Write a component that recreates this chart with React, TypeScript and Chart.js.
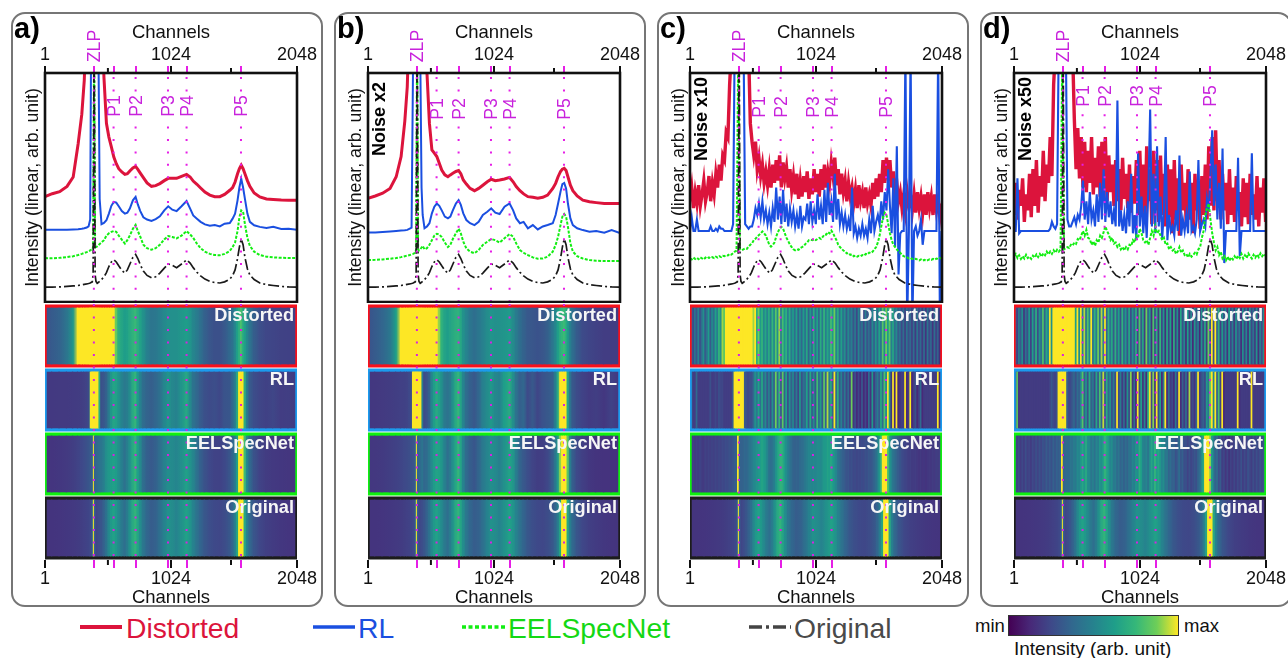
import React, { useEffect, useRef } from "react";
import { Chart, registerables } from "chart.js";

Chart.register(...registerables);
Chart.defaults.font.family = '"Liberation Sans", Arial, sans-serif';

const ROWS = ["Distorted", "RL", "EELSpecNet", "Original"];
const FRAME_COLORS = ["#f7101c", "#1b9bee", "#0ff00f", "#1c1c1c"];
const PEAK_NAMES = ["ZLP", "P1", "P2", "P3", "P4", "P5"];
const PEAK_CHANNELS = [398, 558, 737, 1000, 1151, 1593];
const LABEL_TICKS = [1, 1024, 2048];
const MINOR_TICKS = [512, 1512];

const SMOOTH_CH = [
  1, 60, 120, 180, 230, 270, 300, 320, 340, 355,
  368, 375, 385, 392, 400, 408, 415, 425, 436, 445,
  460, 480, 500, 520, 540, 560, 580, 600, 625, 650,
  670, 690, 715, 737, 755, 775, 800, 830, 866, 900,
  934, 970, 1002, 1035, 1070, 1110, 1151, 1180, 1205, 1235,
  1265, 1300, 1340, 1380, 1421, 1460, 1502, 1525, 1545, 1565,
  1580, 1595, 1610, 1625, 1645, 1665, 1700, 1746, 1800, 1855,
  1920, 1980, 2048,
];

const ORIGINAL = [
  6.5, 6.5, 6.6, 6.8, 7, 7.2, 7.5, 7.7, 7.9, 8.1,
  8.3, 8.5, 8.8, 12, 120, 12, 9, 8.2, 8.6, 9,
  9.8, 11, 12.8, 15.5, 17.5, 18.5, 17.5, 15.8, 13.8, 12.6,
  14, 16.5, 19.5, 20.8, 19, 16.3, 13.5, 11.6, 10.6, 11,
  12.6, 14.8, 16.6, 16, 15, 16.6, 18.4, 17, 15, 13,
  11.4, 10, 9, 8.5, 8.3, 8.8, 10, 11.5, 14, 19,
  24, 27.5, 25, 19.5, 14.5, 11.8, 9.8, 8.3, 7.6, 7.2,
  6.8, 6.6, 6.5,
];

const A_DISTORTED = [
  46, 47.3, 48.2, 50.5, 54.6, 69, 82, 96.8, 130, 130,
  130, 130, 130, 130, 130, 130, 130, 130, 130, 130,
  130, 98, 78, 72, 67.7, 63.3, 60.4, 58.2, 56.8, 55.7,
  56, 57.2, 58.5, 59.2, 57.9, 56.3, 54.3, 52, 50.5, 50.8,
  51.7, 53, 54, 54, 54, 54.9, 55.7, 54.6, 52.8, 51.4,
  49.8, 48, 46.7, 46, 46, 47, 48.8, 50, 52.4, 56,
  58.2, 59.7, 58.2, 56, 53, 50.5, 47.6, 45.9, 45, 44.8,
  44.5, 44.4, 44.4,
];
const A_RL = [
  31.5, 31.5, 31.6, 31.6, 31.7, 31.8, 32, 32.2, 32.5, 33,
  36, 110, 120, 120, 120, 120, 120, 120, 105, 45,
  34, 34.5, 35.7, 38.6, 42, 43.7, 43.4, 41.8, 39.7, 38.6,
  39, 40.8, 44.4, 45.9, 42.6, 39.7, 37, 36, 35.4, 36.2,
  37.4, 40, 41.8, 40.3, 39.7, 41.8, 44.1, 40.8, 37.8, 36.4,
  35, 33.9, 33.3, 33.6, 33, 34.2, 34.5, 36.4, 38.6, 44.4,
  50, 53.9, 50, 45, 38.6, 35, 33.5, 32.8, 32.3, 32.8,
  31.9, 32, 31.6,
];
const A_EELS = [
  19.2, 19.1, 19.3, 19.6, 20, 20.5, 21, 21.4, 21.8, 22.2,
  22.5, 22.8, 23, 24, 120, 24, 24, 24.3, 24.8, 25.3,
  26, 27, 29, 30, 30.6, 31, 30.6, 29, 27.2, 25.5,
  27, 29, 32, 33.7, 31, 28.5, 25, 23.5, 22.8, 23.5,
  25, 27.3, 28.8, 28.4, 27.8, 29, 31, 29.5, 28, 25.5,
  23.5, 22, 21, 20.5, 20.4, 21, 22.3, 24, 26, 31,
  37, 40, 39.5, 34, 28, 24.5, 22, 20.5, 19.8, 19.5,
  19.3, 19.2, 19.2,
];

const B_DISTORTED = [
  45.3, 46.3, 47.5, 49.6, 54.7, 63.5, 79, 94, 130, 130,
  130, 130, 130, 130, 130, 130, 130, 130, 130, 130,
  130, 100, 78, 66.4, 65, 63.5, 60.6, 57.6, 55.5, 54.7,
  55.5, 56.2, 57, 57.4, 56, 53.3, 51.5, 49.6, 48.6, 49.6,
  51, 52.5, 53.6, 53, 53.3, 53.7, 54.4, 52.5, 50.4, 48.6,
  47.2, 46, 45.7, 45.3, 45.7, 46.7, 49.6, 51.8, 54.7, 57,
  58, 58.4, 57.4, 54.7, 51, 48.6, 46.3, 44.5, 43.8, 43.4,
  43, 43, 43,
];
const B_RL = [
  30.3, 30.4, 30.6, 30.8, 31, 31.2, 31.3, 31.5, 32, 32.5,
  110, 120, 120, 120, 120, 120, 120, 110, 50, 38,
  32.2, 33, 34.4, 38.7, 41.6, 43, 42, 40, 37.3, 36.5,
  37.3, 40, 43, 44.5, 42.4, 38.7, 35.8, 34.4, 33.6, 35,
  38, 39.4, 40.9, 39, 38.4, 41.6, 43, 40, 36.5, 34.4,
  35, 32.2, 33.6, 31.7, 33, 33.6, 34.4, 38, 43, 48.2,
  51.5, 52, 49.6, 43, 36.5, 33.6, 32.2, 31.4, 30.7, 31,
  30.3, 31.4, 30.1,
];
const B_EELS = [
  18.3, 18.4, 18.6, 18.9, 19.2, 19.6, 20, 20.2, 20.5, 20.8,
  21, 21.2, 21.5, 23, 120, 23, 22.5, 23, 23.8, 24.5,
  23, 23.5, 25, 27, 29, 29.8, 29.5, 28.3, 26, 24,
  25, 27.5, 30, 32, 30, 26.3, 23.4, 22, 21.3, 22.7,
  24.9, 26.3, 27.5, 27, 25.9, 27.8, 29.7, 28.5, 25.6, 22.7,
  21.5, 20.5, 19.5, 18.9, 19, 19.8, 22, 24.9, 28.5, 33.6,
  37.3, 38.4, 37.3, 32.9, 25.6, 22, 20, 19, 18.3, 18,
  17.9, 17.9, 17.9,
];

const NOISY_CH = Array.from({ length: 147 }, (_, i) => 1 + i * 14);

const C_DISTORTED = [
  44, 50, 41, 48, 43, 51, 42, 47, 53, 44,
  48, 55, 44, 52, 47, 56, 50, 60, 53, 64,
  62, 74, 72, 95, 110, 130, 130, 130, 130, 130,
  130, 130, 130, 130, 110, 78, 70, 64, 70, 58,
  63, 55, 60, 52, 57, 51, 58, 50, 60, 52,
  62, 53, 64, 50, 61, 54, 59, 50, 58, 49,
  55, 47, 56, 45, 53, 46, 55, 48, 57, 45,
  54, 47, 58, 48, 56, 46, 58, 49, 60, 50,
  57, 52, 61, 55, 63, 51, 58, 47, 56, 48,
  53, 44, 52, 46, 50, 43, 49, 41, 51, 44,
  48, 41, 50, 43, 47, 42, 52, 45, 54, 46,
  56, 48, 62, 52, 63, 55, 62, 50, 57, 47,
  52, 44, 48, 41, 47, 40, 48, 42, 46, 40,
  47, 39, 48, 41, 46, 39, 47, 38, 48, 41,
  46, 38, 47, 40, 45, 37, 43,
];
const C_RL = [
  31, 37, 31, 31, 36, 31, 31, 31, 31, 31,
  31, 31, 33, 31, 31, 32, 31, 33, 32, 32,
  31, 31, 31, 31, 31, 34, 120, 120, 120, 120,
  120, 120, 34, 33, 32, 33, 33, 36, 41, 38,
  43, 37, 44, 36, 40, 34, 39, 33, 41, 35,
  50, 36, 46, 34, 49, 35, 43, 33, 41, 35,
  40, 33, 38, 32, 42, 33, 37, 36, 43, 34,
  44, 35, 40, 34, 47, 36, 42, 34, 49, 35,
  52, 38, 44, 35, 56, 36, 45, 34, 39, 33,
  38, 32, 36, 31, 50, 30, 33, 28, 32, 29,
  34, 29, 32, 28, 36, 30, 42, 31, 35, 38,
  34, 44, 36, 48, 40, 58, 42, 30, 54, 24,
  68, 12, 30, 31, 31, 110, -10, 31, 110, -10,
  31, 33, 29, 31, 36, 25, 31, 31, 31, 31,
  31, 31, 31, 31, 110, -10, 31,
];
const C_EELS = [
  19, 18.6, 19.4, 18.8, 19.3, 18.7, 19.5, 19, 18.6, 19.4,
  19, 19.5, 19.1, 19.6, 19.2, 19.8, 19.4, 20, 19.6, 20.2,
  20, 20.5, 20.3, 21, 20.7, 21.3, 22, 22.4, 110, 23,
  22.6, 23, 23.4, 23.2, 24.2, 25, 25.6, 27, 27.6, 28.6,
  29.2, 30, 30.8, 30, 29, 27, 25, 24.2, 24.8, 26,
  28.5, 30.5, 32, 32.8, 32, 30, 28, 26.6, 25, 24,
  23, 22.6, 23, 22.8, 23.6, 24, 24.4, 25.4, 26, 27,
  27.2, 27, 27.4, 27, 27.6, 28, 27.5, 28.4, 29.5, 29.4,
  30.5, 30, 31.2, 30, 28.4, 27, 25, 24, 23.2, 22.5,
  22, 21.2, 21.4, 20.6, 20.8, 20, 20.3, 19.8, 20.2, 20,
  20.5, 20.2, 21, 20.8, 21.6, 21.4, 22, 23, 24, 26,
  29, 33, 37, 39, 38, 34, 30, 27, 25, 24,
  23, 22, 21.5, 20.5, 20, 19.7, 19.5, 19, 19.2, 18.8,
  18.7, 18.9, 18.5, 18.2, 18.6, 18.1, 18.4, 18, 18.3, 18.6,
  18.4, 18.8, 18.5, 19, 18.8, 19.2, 19,
];

const D_DISTORTED = [
  38, 52, 36, 49, 42, 54, 35, 47, 40, 56,
  37, 58, 42, 62, 39, 55, 46, 66, 44, 60,
  52, 72, 55, 95, 110, 130, 130, 130, 130, 130,
  130, 130, 130, 130, 110, 80, 58, 76, 54, 72,
  50, 70, 48, 66, 52, 72, 47, 63, 50, 68,
  46, 70, 50, 72, 44, 64, 48, 60, 42, 62,
  44, 58, 40, 63, 45, 56, 41, 60, 39, 55,
  43, 62, 38, 66, 42, 60, 36, 68, 44, 58,
  34, 66, 40, 62, 35, 64, 38, 56, 33, 60,
  37, 58, 30, 62, 36, 54, 29, 60, 40, 52,
  33, 58, 36, 52, 30, 56, 40, 50, 32, 55,
  38, 60, 36, 68, 42, 72, 40, 75, 44, 62,
  36, 56, 40, 52, 34, 58, 38, 50, 35, 55,
  40, 48, 33, 54, 37, 52, 34, 56, 38, 47,
  36, 55, 33, 50, 39, 54, 35,
];
const D_RL = [
  31, 31, 54, 30, 31, 31, 31, 31, 31, 31,
  31, 31, 31, 31, 31, 31, 31, 31, 31, 31,
  31, 32, 35, 33, 32, 34, 120, 120, 120, 120,
  120, 36, 33, 33, 35, 37, 34, 38, 36, 42,
  53, 36, 44, 34, 48, 36, 40, 33, 47, 35,
  52, 36, 58, 35, 48, 37, 44, 34, 40, 33,
  88, 33, 40, 31, 38, 30, 44, 33, 56, 30,
  38, 27, 65, 33, 46, 30, 42, 28, 50, 84,
  33, 56, 30, 68, 33, 46, 28, 40, 72, 27,
  38, 31, 33, 29, 40, 31, 64, 29, 36, 31,
  38, 30, 57, 31, 33, 30, 36, 62, 31, 34,
  36, 33, 45, 40, 55, 75, 42, 60, 36, 52,
  32, 67, 17, 31, 31, 31, 31, 31, 31, 31,
  63, 20, 31, 31, 31, 31, 31, 31, 65, 31,
  31, 31, 31, 31, 31, 31, 31,
];
const D_EELS = [
  20, 21, 19.2, 20.4, 18.8, 20, 19, 20.6, 19.2, 19.8,
  18.8, 20.2, 19.4, 20.8, 19.6, 21, 19.8, 21.2, 20.4, 22,
  20.8, 22, 21, 22.6, 21.5, 22.8, 22, 23, 110, 23,
  23.5, 24, 23.6, 25, 24.6, 26, 25.4, 27.5, 27, 29,
  31, 29, 31.5, 28, 27.5, 25, 26.5, 24.5, 27, 26,
  29, 28, 30.5, 33, 31, 29.5, 27, 28, 25.5, 26,
  24, 25, 23, 24, 22.6, 24, 23, 25, 24.5, 27,
  26, 29, 28, 32, 30, 27, 26, 27, 25, 28,
  31, 29, 33, 30, 31, 29, 27, 28, 25, 25.5,
  23, 24, 22.5, 23, 21, 22, 24, 21.5, 22.5, 20.5,
  21, 19.5, 21, 19.8, 20.5, 21.5, 20.8, 23, 24, 28,
  31, 38, 41, 43, 36, 30, 26, 22.5, 24, 20.5,
  22, 19, 20, 18.2, 19.8, 18, 19.5, 18.6, 20, 18.8,
  20.2, 19.2, 21, 19, 20.4, 19.2, 21.2, 20, 19, 20.6,
  19.4, 20.8, 19.6, 21.2, 20, 21, 20.2,
];

const VIRIDIS = ["#440154", "#482878", "#3e4989", "#31688e", "#26828e", "#1f9e89", "#35b779", "#6ece58", "#fde725"];

const RED = "#dc143c";
const BLUE = "#1a4fe0";
const GREEN = "#12ee12";
const BLACK = "#1a1a1a";
const MAGENTA = "#e61ee6";
const DOT_MAGENTA = "#d820e4";
const LABEL_MAGENTA = "#c822dc";

type Spec = {
  tag: string; noise: string | null; left: number; plotLeft: number; width: number; labelY: number;
  ch: number[][]; series: number[][]; ranges: number[][];
};

const PANELS: Spec[] = [
  { tag: "a)", noise: null, left: 11, plotLeft: 45, width: 312, labelY: 106,
    ch: [SMOOTH_CH, SMOOTH_CH, SMOOTH_CH, SMOOTH_CH],
    series: [A_DISTORTED, A_RL, A_EELS, ORIGINAL],
    ranges: [[43, 59, 62], [31, 46, 48], [19, 33.7, 36], [6.5, 21, 23]] },
  { tag: "b)", noise: "Noise x2", left: 334, plotLeft: 368, width: 312, labelY: 109,
    ch: [SMOOTH_CH, SMOOTH_CH, SMOOTH_CH, SMOOTH_CH],
    series: [B_DISTORTED, B_RL, B_EELS, ORIGINAL],
    ranges: [[42, 58, 62], [30, 44.5, 47], [18, 32, 34.5], [6.5, 21, 23]] },
  { tag: "c)", noise: "Noise x10", left: 657, plotLeft: 690, width: 312, labelY: 107,
    ch: [NOISY_CH, NOISY_CH, NOISY_CH, SMOOTH_CH],
    series: [C_DISTORTED, C_RL, C_EELS, ORIGINAL],
    ranges: [[38, 60, 66], [30, 46, 54], [18, 33, 36], [6.5, 21, 23]] },
  { tag: "d)", noise: "Noise x50", left: 980, plotLeft: 1014, width: 308, labelY: 96,
    ch: [NOISY_CH, NOISY_CH, NOISY_CH, SMOOTH_CH],
    series: [D_DISTORTED, D_RL, D_EELS, ORIGINAL],
    ranges: [[34, 64, 72], [30, 50, 60], [18, 33, 38], [6.5, 21, 23]] },
];

const PLOT_W = 252;
const LINE_STYLE = [
  { color: RED, width: 3, noisyWidth: 3.4, dash: [] as number[], order: 4 },
  { color: BLUE, width: 2, noisyWidth: 2.1, dash: [] as number[], order: 3 },
  { color: GREEN, width: 2, noisyWidth: 2, dash: [3, 1.5], order: 2 },
  { color: BLACK, width: 1.7, noisyWidth: 1.7, dash: [11, 3, 2, 3], order: 1 },
];

function hexRgb(h: string) {
  return [1, 3, 5].map((i) => parseInt(h.slice(i, i + 2), 16));
}
function viridis(t: number) {
  const c = Math.max(0.13, Math.min(0.9999, t)) * (VIRIDIS.length - 1);
  const i = Math.floor(c);
  const f = c - i;
  const a = hexRgb(VIRIDIS[i]);
  const b = hexRgb(VIRIDIS[i + 1]);
  return `rgb(${a.map((v, k) => Math.round(v + (b[k] - v) * f)).join(",")})`;
}
function level(v: number, r: number[]) {
  if (v <= r[1]) return 0.17 + ((v - r[0]) / (r[1] - r[0])) * 0.57;
  return 0.74 + ((v - r[1]) / (r[2] - r[1])) * 0.26;
}

function xAxis(position: "top" | "bottom", height: number, titlePad: any, tickPad: number) {
  return {
    type: "linear" as const,
    position,
    min: 1,
    max: 2048,
    afterBuildTicks(scale: any) {
      scale.ticks = [...LABEL_TICKS, ...PEAK_CHANNELS].sort((a, b) => a - b).map((value) => ({ value }));
    },
    afterFit(scale: any) {
      scale.height = height;
    },
    border: { display: false },
    grid: {
      drawOnChartArea: false,
      drawTicks: true,
      tickLength: position === "top" ? 7 : 8,
      lineWidth: 2,
      color: (c: any) => (c.tick && PEAK_CHANNELS.includes(c.tick.value) ? MAGENTA : "#111"),
    },
    ticks: {
      autoSkip: false,
      maxRotation: 0,
      minRotation: 0,
      padding: tickPad,
      color: "#111",
      font: { size: 18 },
      callback: (v: any) => (LABEL_TICKS.includes(v) ? String(v) : ""),
    },
    title: { display: true, text: "Channels", color: "#111", font: { size: 18.5 }, padding: titlePad },
  };
}

function rotatedText(ctx: any, text: string, x: number, y: number, font: string, color: string) {
  ctx.save();
  ctx.translate(x, y);
  ctx.rotate(-Math.PI / 2);
  ctx.textAlign = "center";
  ctx.textBaseline = "middle";
  ctx.font = font;
  ctx.fillStyle = color;
  ctx.fillText(text, 0, 0);
  ctx.restore();
}

function Panel({ spec }: { spec: Spec }) {
  const lineRef = useRef<HTMLCanvasElement>(null);
  const heatRef = useRef<HTMLCanvasElement>(null);
  const off = spec.plotLeft - spec.left;
  const rightPad = spec.width - off - PLOT_W;

  useEffect(() => {
    const overlay = {
      id: "lineOverlay",
      afterDatasetsDraw(chart: any) {
        const { ctx, chartArea: a, scales } = chart;
        ctx.save();
        ctx.strokeStyle = MAGENTA;
        ctx.lineWidth = 2;
        ctx.setLineDash([2, 10.4]);
        PEAK_CHANNELS.forEach((c) => {
          const x = scales.x.getPixelForValue(c);
          ctx.beginPath();
          ctx.moveTo(x, a.top + 4);
          ctx.lineTo(x, a.bottom);
          ctx.stroke();
        });
        ctx.setLineDash([]);
        PEAK_NAMES.forEach((n, i) => {
          const x = scales.x.getPixelForValue(PEAK_CHANNELS[i]);
          if (n === "ZLP") {
            rotatedText(ctx, n, x + 1.5, 34, "17.7px 'Liberation Sans'", LABEL_MAGENTA);
          } else {
            const cy = spec.labelY - 12;
            ctx.fillStyle = "#fff";
            ctx.fillRect(x - 3, cy - 13, 6, 26);
            rotatedText(ctx, n, x + 1.5, cy, "17.7px 'Liberation Sans'", LABEL_MAGENTA);
          }
        });
        if (spec.noise) {
          rotatedText(ctx, spec.noise, a.left + 12, 107, "bold 18px 'Liberation Sans'", "#000");
        }
        ctx.strokeStyle = "#111";
        ctx.lineWidth = 2;
        MINOR_TICKS.forEach((c) => {
          const x = scales.x.getPixelForValue(c);
          ctx.beginPath();
          ctx.moveTo(x, a.top);
          ctx.lineTo(x, a.top - 5);
          ctx.stroke();
        });
        ctx.lineWidth = 2.6;
        ctx.strokeRect(a.left, a.top, a.right - a.left, a.bottom - a.top);
        ctx.restore();
      },
    };
    const lineChart = new Chart(lineRef.current as HTMLCanvasElement, {
      type: "line",
      data: {
        datasets: spec.series.map((vals, s) => ({
          label: ROWS[s],
          data: vals.map((y, i) => ({ x: spec.ch[s][i], y })),
          borderColor: LINE_STYLE[s].color,
          borderWidth: spec.ch[s] === NOISY_CH ? LINE_STYLE[s].noisyWidth : LINE_STYLE[s].width,
          borderDash: LINE_STYLE[s].dash,
          order: LINE_STYLE[s].order,
          pointRadius: 0,
          tension: 0,
          fill: false,
        })),
      },
      plugins: [overlay],
      options: {
        responsive: false,
        animation: false,
        events: [],
        layout: { padding: { top: 0, left: 0, right: rightPad, bottom: 1 } },
        plugins: { legend: { display: false }, tooltip: { enabled: false } },
        scales: {
          x: xAxis("top", 61, { top: 9.5, bottom: 0 }, 0),
          y: {
            type: "linear",
            min: 0,
            max: 100,
            afterFit(scale: any) {
              scale.width = off;
            },
            border: { display: false },
            grid: { display: false },
            ticks: { display: false },
            title: {
              display: true,
              text: "Intensity (linear, arb. unit)",
              color: "#111",
              font: { size: 17.7 },
              padding: { top: 11, bottom: 0 },
            },
          },
        },
      } as any,
    });

    const INSET_L = 15;
    const INSET_R = 2034;
    const cellSets = spec.series.map((vals, s) => {
      const ch = spec.ch[s];
      const solid = ch === NOISY_CH;
      const cols = vals.map((v) => viridis(level(v, spec.ranges[s])));
      return {
        label: ROWS[s],
        grouped: false,
        barPercentage: 0.885,
        categoryPercentage: 1,
        borderWidth: 0,
        data: vals.slice(0, -1).map((_, i) => ({
          x: [Math.max(INSET_L, ch[i] - 10), Math.min(INSET_R, ch[i + 1])],
          y: ROWS[s],
        })),
        backgroundColor: (c: any) => {
          const i = c.dataIndex;
          if (i === undefined || !c.chart.scales.x) return cols[0];
          if (solid) return cols[i];
          const xs = c.chart.scales.x;
          const x0 = xs.getPixelForValue(ch[i]);
          const x1 = xs.getPixelForValue(ch[i + 1]);
          if (!Number.isFinite(x0) || !Number.isFinite(x1)) return cols[i] || cols[0];
          const g = c.chart.ctx.createLinearGradient(x0, 0, x1, 0);
          g.addColorStop(0, cols[i]);
          g.addColorStop(1, cols[i + 1]);
          return g;
        },
      };
    });
    const heatOverlay = {
      id: "heatOverlay",
      afterDatasetsDraw(chart: any) {
        const { ctx, chartArea: a, scales } = chart;
        ctx.save();
        ctx.strokeStyle = DOT_MAGENTA;
        ctx.lineWidth = 2;
        ctx.setLineDash([2, 10.5]);
        PEAK_CHANNELS.forEach((c) => {
          const x = scales.x.getPixelForValue(c);
          ctx.beginPath();
          ctx.moveTo(x, a.top);
          ctx.lineTo(x, a.bottom);
          ctx.stroke();
        });
        ctx.setLineDash([]);
        ctx.fillStyle = "#f6f6f6";
        ctx.font = "bold 18.2px 'Liberation Sans'";
        ctx.textAlign = "right";
        ctx.textBaseline = "middle";
        ROWS.forEach((r) => {
          ctx.fillText(r, a.right - 3, scales.y.getPixelForValue(r) - 20);
        });
        ctx.strokeStyle = "#111";
        ctx.lineWidth = 2;
        MINOR_TICKS.forEach((c) => {
          const x = scales.x.getPixelForValue(c);
          ctx.beginPath();
          ctx.moveTo(x, a.bottom);
          ctx.lineTo(x, a.bottom + 5);
          ctx.stroke();
        });
        ctx.restore();
      },
    };
    const heatChart = new Chart(heatRef.current as HTMLCanvasElement, {
      type: "bar",
      data: {
        labels: ROWS,
        datasets: [
          ...cellSets,
          {
            label: "frame",
            grouped: false,
            barPercentage: 0.985,
            categoryPercentage: 1,
            borderWidth: 0,
            data: ROWS.map((r) => ({ x: [1, 2048], y: r })),
            backgroundColor: FRAME_COLORS,
          },
        ],
      },
      plugins: [heatOverlay],
      options: {
        indexAxis: "y",
        responsive: false,
        animation: false,
        events: [],
        layout: { padding: { top: 1, left: off, right: rightPad, bottom: 0 } },
        plugins: { legend: { display: false }, tooltip: { enabled: false } },
        scales: {
          x: xAxis("bottom", 49, { top: 0, bottom: 0 }, 0),
          y: { type: "category", labels: ROWS, display: false, offset: true },
        },
      } as any,
    });
    return () => {
      lineChart.destroy();
      heatChart.destroy();
    };
  }, [spec]);

  return (
    <>
      <div
        style={{
          position: "absolute",
          left: spec.left,
          top: 12,
          width: 312,
          height: 595,
          boxSizing: "border-box",
          border: "2px solid #767676",
          borderRadius: 14,
        }}
      />
      <canvas ref={lineRef} width={spec.width} height={291} style={{ position: "absolute", left: spec.left, top: 12, display: "block" }} />
      <canvas ref={heatRef} width={spec.width} height={306} style={{ position: "absolute", left: spec.left, top: 303, display: "block" }} />
      <div style={{ position: "absolute", left: spec.left + 3, top: 12, font: "bold 29px 'Liberation Sans'", color: "#000" }}>{spec.tag}</div>
    </>
  );
}

function LegendItem({ x, x2, y, color, textColor, dash, text, textX, thick }: any) {
  return (
    <>
      <svg style={{ position: "absolute", left: x, top: y - 4, width: x2 - x, height: 8 }}>
        <line x1={0} y1={4} x2={x2 - x} y2={4} stroke={color} strokeWidth={thick} strokeDasharray={dash} />
      </svg>
      <div style={{ position: "absolute", left: textX, top: y - 15, font: "28.3px 'Liberation Sans'", color: textColor, whiteSpace: "nowrap" }}>{text}</div>
    </>
  );
}

export default function App() {
  return (
    <div style={{ position: "absolute", left: 0, top: 0, width: 1288, height: 658, overflow: "hidden", background: "#fff" }}>
      {PANELS.map((p) => (
        <Panel key={p.tag} spec={p} />
      ))}
      <LegendItem x={80} x2={122} y={627} color={RED} textColor={RED} thick={4} text="Distorted" textX={126} />
      <LegendItem x={313} x2={355} y={627} color={BLUE} textColor={BLUE} thick={3.5} text="RL" textX={358} />
      <LegendItem x={462} x2={505} y={627} color={GREEN} textColor="#14d814" thick={3.5} dash="4 2.5" text="EELSpecNet" textX={508} />
      <LegendItem x={749} x2={791} y={627} color="#444" textColor="#4a4a4a" thick={3.5} dash="13 4 3 4" text="Original" textX={794} />
      <div
        style={{
          position: "absolute",
          left: 1008,
          top: 615,
          width: 171,
          height: 21,
          boxSizing: "border-box",
          border: "1px solid #333",
          background: `linear-gradient(to right, ${VIRIDIS.join(",")})`,
        }}
      />
      <div style={{ position: "absolute", left: 975, top: 615, font: "18.5px 'Liberation Sans'", color: "#111" }}>min</div>
      <div style={{ position: "absolute", left: 1184, top: 615, font: "18.5px 'Liberation Sans'", color: "#111" }}>max</div>
      <div style={{ position: "absolute", left: 1014, top: 638, font: "19px 'Liberation Sans'", color: "#111", whiteSpace: "nowrap" }}>Intensity (arb. unit)</div>
    </div>
  );
}
